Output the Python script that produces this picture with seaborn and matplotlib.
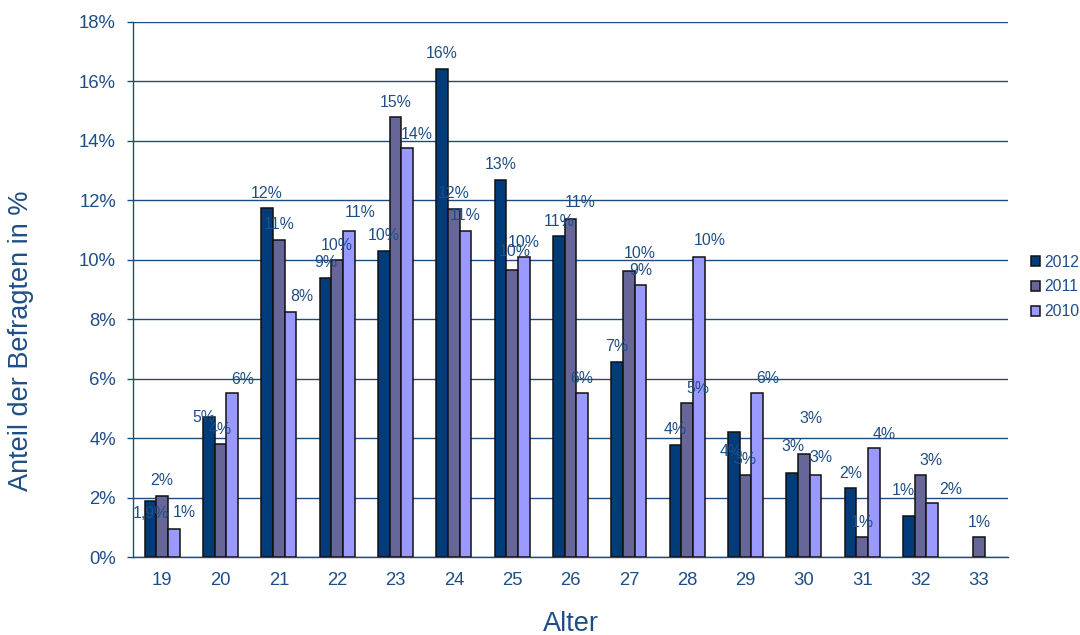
import numpy as np
import pandas as pd
import matplotlib
matplotlib.use("Agg")
import matplotlib.pyplot as plt
from matplotlib.ticker import FixedLocator, FuncFormatter
import seaborn as sns

# ---- data (percent of respondents) ----
ages = ["19", "20", "21", "22", "23", "24", "25", "26", "27", "28", "29", "30", "31", "32", "33"]
years = ["2012", "2011", "2010"]
share_2012 = [1.88, 4.71, 11.74, 9.39, 10.30, 16.42, 12.69, 10.80, 6.57, 3.77, 4.21, 2.83, 2.32, 1.38, np.nan]
share_2011 = [2.06, 3.80, 10.67, 9.99, 14.80, 11.71, 9.66, 11.37, 9.63, 5.18, 2.76, 3.47, 0.67, 2.76, 0.67]
share_2010 = [0.93, 5.51, 8.24, 10.97, 13.76, 10.97, 10.09, 5.51, 9.15, 10.09, 5.52, 2.76, 3.67, 1.82, np.nan]
label_overrides = {("2012", "19"): "1,9%"}

series = {"2012": share_2012, "2011": share_2011, "2010": share_2010}
rows = []
for yr in years:
    for a, v in zip(ages, series[yr]):
        if not np.isnan(v):
            rows.append({"Alter": a, "Jahr": yr, "Anteil": v})
df = pd.DataFrame(rows)

# ---- label placement (pixels: dx, height above bar top) ----
default_offset = (0, 15)
label_offsets = {
    ("2012", "19"): (0, -12), ("2010", "19"): (10, 17),
    ("2012", "20"): (-5, 0), ("2010", "20"): (11, 14),
    ("2010", "21"): (11, 16), ("2010", "22"): (11, 18), ("2010", "23"): (10, 14),
    ("2011", "25"): (3, 18), ("2011", "26"): (10, 17), ("2011", "27"): (11, 17),
    ("2011", "28"): (11, 15), ("2010", "28"): (11, 17),
    ("2012", "29"): (-3, -20), ("2010", "29"): (11, 14),
    ("2012", "30"): (1, 26), ("2011", "30"): (7, 35), ("2010", "30"): (6, 17),
    ("2010", "31"): (10, 13),
    ("2012", "32"): (-6, 25), ("2011", "32"): (11, 14), ("2010", "32"): (19, 13),
}

colors = {"2012": "#003C7A", "2011": "#666699", "2010": "#9999FF"}
text_col = "#1F4E86"
line_col = "#1F4A7E"

sns.set_style("white")
plt.rcParams["font.family"] = ["Liberation Sans", "DejaVu Sans"]

fig = plt.figure(figsize=(10.8, 6.35), dpi=100)
ax = fig.add_axes([133 / 1080, 78 / 635, 875 / 1080, 535 / 635])

sns.barplot(data=df, x="Alter", y="Anteil", hue="Jahr", order=ages, hue_order=years,
            palette=colors, width=0.6, gap=0, errorbar=None, ax=ax,
            edgecolor="#111111", linewidth=1.1, saturation=1, zorder=3)

# data labels
for yr, cont in zip(years, ax.containers):
    vals = series[yr]
    for bar in cont:
        h = bar.get_height()
        if np.isnan(h):
            continue
        cx = bar.get_x() + bar.get_width() / 2
        idx = int(round(cx))
        a = ages[idx]
        txt = label_overrides.get((yr, a), f"{round(vals[idx]):.0f}%")
        dx, dy = label_offsets.get((yr, a), default_offset)
        ax.annotate(txt, xy=(cx, h), xytext=(dx, dy), textcoords="offset pixels",
                    ha="center", va="center", fontsize=11.4, color=text_col, zorder=5)

# axes styling
ax.set_xlim(-0.5, len(ages) - 0.5)
ax.set_ylim(0, 18)
ax.set_yticks(np.arange(0, 19, 2))
ax.yaxis.set_major_formatter(FuncFormatter(lambda v, p: f"{v:.0f}%"))
ax.yaxis.grid(True, color=line_col, linewidth=1.0, zorder=0)
ax.set_axisbelow(True)
ax.xaxis.grid(False)
for s in ["top", "right"]:
    ax.spines[s].set_visible(False)
for s in ["left", "bottom"]:
    ax.spines[s].set_color(line_col)
    ax.spines[s].set_linewidth(1.0)

ax.xaxis.set_minor_locator(FixedLocator(np.arange(-0.5, len(ages), 1.0)))
ax.tick_params(axis="x", which="major", length=0, pad=11, labelsize=13.3, labelcolor=text_col)
ax.tick_params(axis="x", which="minor", length=4.3, width=1.0, color=line_col, direction="out")
ax.tick_params(axis="y", which="major", left=True, length=4.3, width=1.0, color=line_col,
               direction="out", pad=8, labelsize=13.3, labelcolor=text_col)

ax.set_xlabel("Alter", fontsize=19.5, color=text_col)
ax.set_ylabel("Anteil der Befragten in %", fontsize=19.5, color=text_col)
ax.yaxis.set_label_coords(-(133 - 34) / 875, (557 - 341) / 535)
ax.xaxis.set_label_coords(0.5, -(611 - 557) / 535)

handles, labels = ax.get_legend_handles_labels()
leg = ax.legend(handles, labels, loc="center left", bbox_to_anchor=(1031 / 1080, 1 - 287 / 635),
                bbox_transform=fig.transFigure, frameon=False, fontsize=11.3,
                handlelength=0.6, handleheight=0.6, handletextpad=0.25, labelspacing=0.62,
                borderpad=0, borderaxespad=0, title=None)
for t in leg.get_texts():
    t.set_color(text_col)

fig.savefig("out.png", dpi=100)
